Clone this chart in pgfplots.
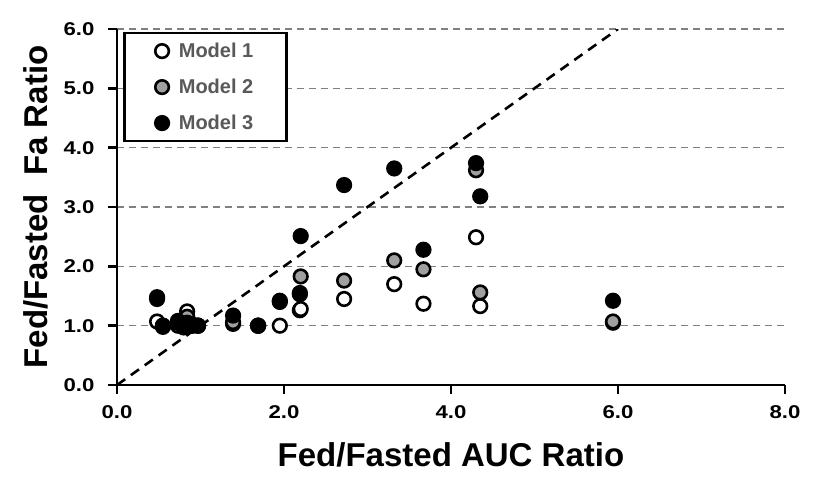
\documentclass[border=0pt]{standalone}
\usepackage{fontspec}
\setmainfont{Liberation Sans}
\newfontfamily\tickfont{Liberation Sans}[FakeStretch=1.2]
\usepackage{pgfplots}
\pgfplotsset{compat=1.18}

\definecolor{markgray}{HTML}{A0A0A0}
\definecolor{gridgray}{HTML}{808080}
\definecolor{legtext}{HTML}{595959}

\begin{document}
\begin{tikzpicture}
\begin{axis}[
  scale only axis,
  width=668pt, height=356pt,
  xmin=0, xmax=8, ymin=0, ymax=6,
  xtick={0,2,4,6,8},
  ytick={0,1,2,3,4,5,6},
  axis lines*=left,
  axis line style={line width=2.8pt, black},
  tick align=outside,
  major tick length=9pt,
  major tick style={line width=2.5pt, black},
  ymajorgrids,
  grid style={gridgray, line width=1.6pt, dash pattern=on 7pt off 5pt},
  /pgf/number format/.cd, fixed, fixed zerofill, precision=1, assume math mode=true,
  /pgfplots/.cd,
  tick label style={font=\tickfont\fontsize{18.5}{22}\selectfont\bfseries},
  xticklabel style={yshift=-8pt},
  yticklabel style={xshift=-10pt},
  xlabel={Fed/Fasted AUC Ratio},
  ylabel={Fed/Fasted\ \ Fa Ratio},
  label style={font=\fontsize{33}{38}\selectfont\bfseries},
  xlabel style={at={(axis description cs:0.5,0)}, anchor=base, inner sep=0pt, yshift=-81pt},
  ylabel style={at={(axis description cs:0,0.5)}, anchor=base, inner sep=0pt, yshift=69pt},
  legend style={at={(0.009,0.992)}, anchor=north west, draw=black, line width=2.5pt,
    font=\fontsize{20}{24}\selectfont\bfseries, text=legtext,
    inner xsep=31pt, inner ysep=8pt, row sep=16pt, column sep=8pt},
  legend cell align=left,
]
% line of unity
\addplot[forget plot, black, line width=2.6pt, dash pattern=on 10pt off 7pt] coordinates {(0,0) (6,6)};

% Model 1 (open)
\addplot[only marks, mark=*, mark size=6.8pt,
  mark options={fill=white, draw=black, line width=2.6pt}] coordinates {
  (0.48,1.07) (0.55,1.00) (0.73,1.00) (0.80,1.00) (0.84,1.24) (0.90,1.00)
  (0.97,1.00) (1.39,1.03) (1.69,1.00) (1.95,1.00) (2.19,1.26) (2.20,1.28)
  (2.72,1.45) (3.32,1.70) (3.67,1.37) (4.30,2.49) (4.35,1.33) (5.94,1.05)
};
\addlegendentry{Model 1}

% Model 2 (grey)
\addplot[only marks, mark=*, mark size=6.8pt,
  mark options={fill=markgray, draw=black, line width=2.6pt}] coordinates {
  (0.48,1.45) (0.55,1.00) (0.73,1.05) (0.80,1.00) (0.84,1.15) (0.90,1.00)
  (0.97,1.00) (1.39,1.06) (1.69,1.00) (1.95,1.40) (2.20,1.83) (2.19,1.53)
  (2.72,1.76) (3.32,2.10) (3.67,1.95) (4.30,3.62) (4.35,1.56) (5.94,1.07)
};
\addlegendentry{Model 2}

% Model 3 (black)
\addplot[only marks, mark=*, mark size=6.8pt,
  mark options={fill=black, draw=black, line width=2.6pt}] coordinates {
  (0.48,1.48) (0.55,0.98) (0.73,1.08) (0.80,0.97) (0.84,1.05) (0.90,1.02)
  (0.97,1.00) (1.39,1.17) (1.69,1.00) (1.95,1.42) (2.20,2.51) (2.19,1.55)
  (2.72,3.37) (3.32,3.65) (3.67,2.28) (4.30,3.74) (4.35,3.18) (5.94,1.42)
};
\addlegendentry{Model 3}
\end{axis}
\pgfresetboundingbox
\path (current axis.south west) ++(-117pt,-100pt) rectangle ++(840pt,485pt);
\end{tikzpicture}
\end{document}
